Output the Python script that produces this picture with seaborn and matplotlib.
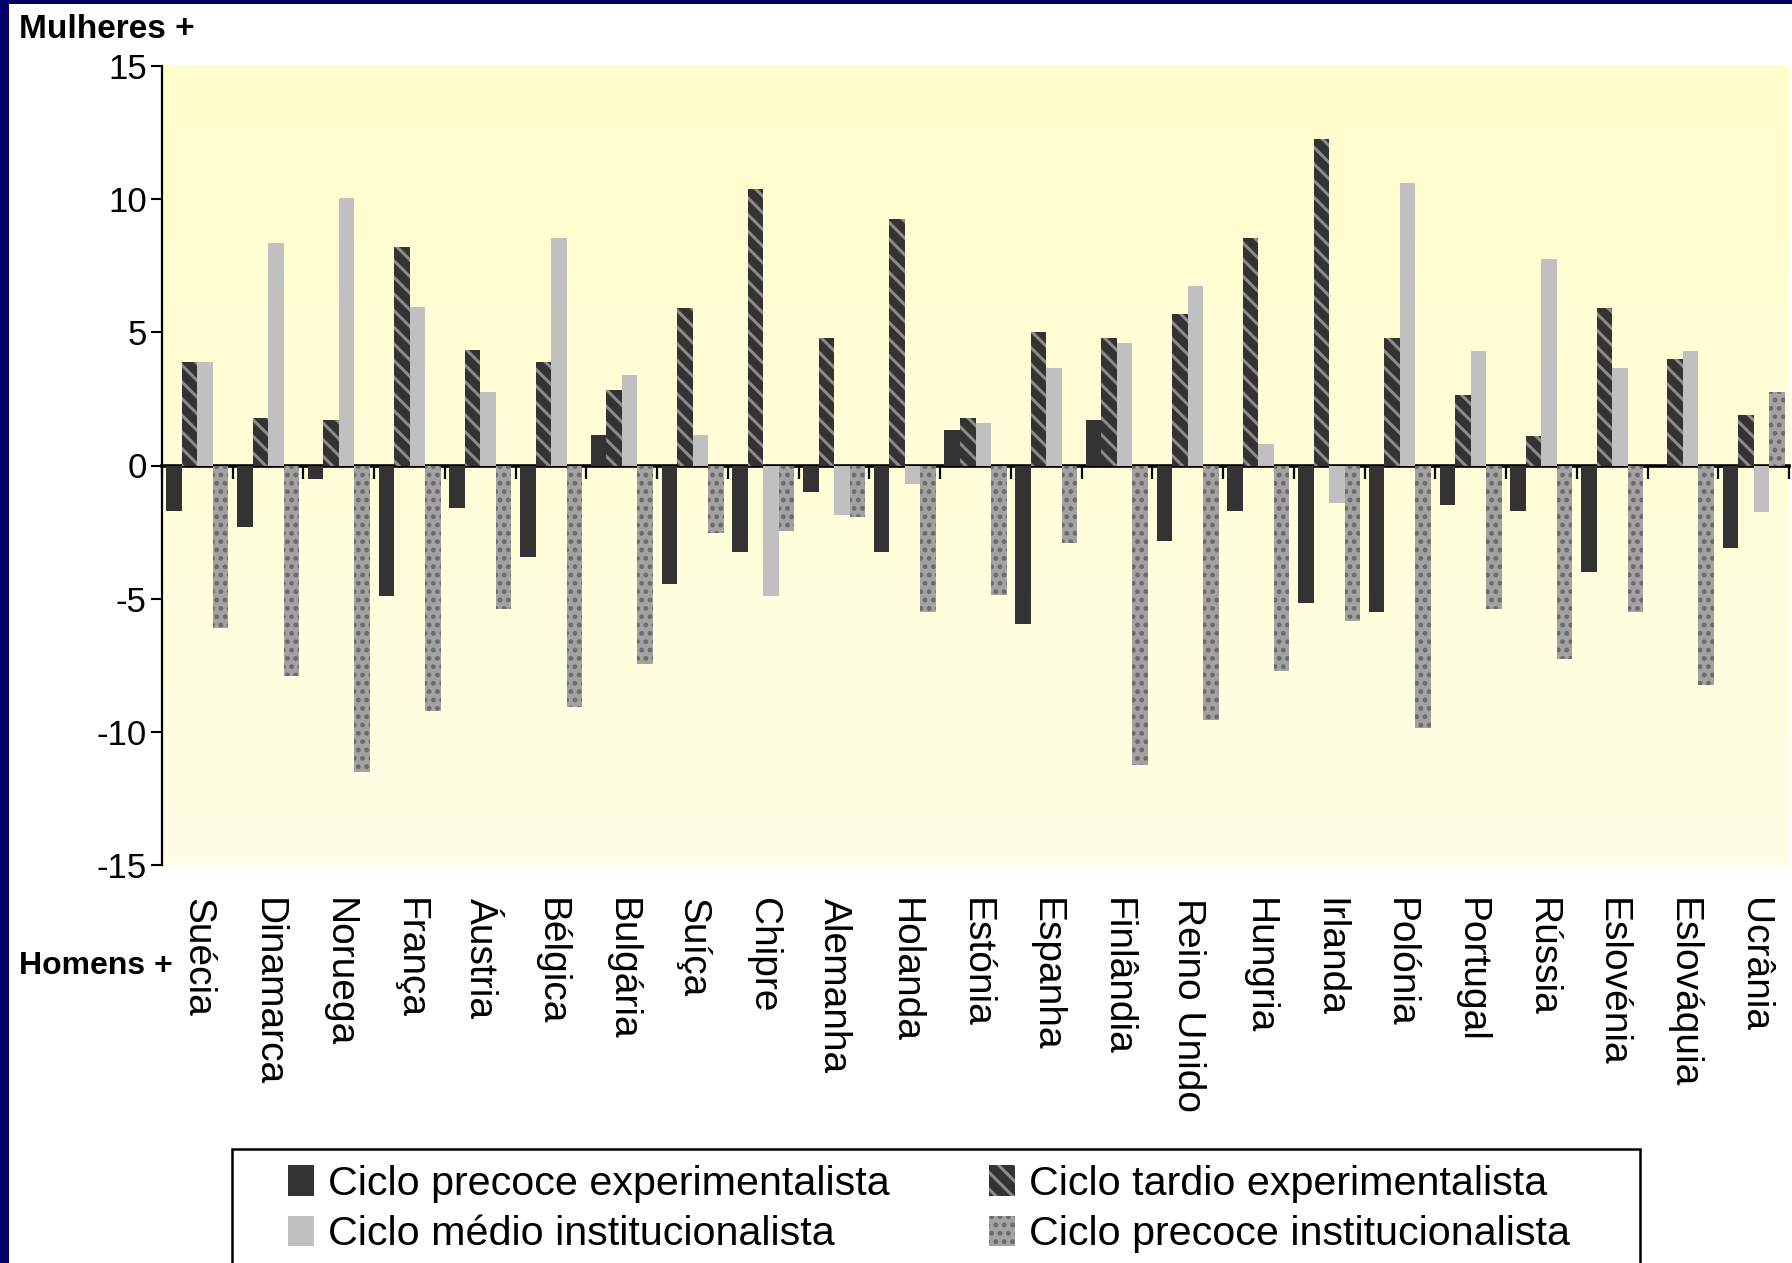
import numpy as np
import pandas as pd
import matplotlib
matplotlib.use("Agg")
import matplotlib.pyplot as plt
import seaborn as sns
from matplotlib.patches import Patch, Rectangle
from matplotlib.colors import LinearSegmentedColormap

countries = ["Suécia", "Dinamarca", "Noruega", "França", "Áustria", "Bélgica",
             "Bulgária", "Suíça", "Chipre", "Alemanha", "Holanda", "Estónia",
             "Espanha", "Finlândia", "Reino Unido", "Hungria", "Irlanda",
             "Polónia", "Portugal", "Rússia", "Eslovénia", "Eslováquia", "Ucrânia"]

series = ["Ciclo precoce experimentalista", "Ciclo tardio experimentalista",
          "Ciclo médio institucionalista", "Ciclo precoce institucionalista"]

precoce_exp = [-1.7, -2.3, -0.5, -4.9, -1.6, -3.45, 1.15, -4.45, -3.25, -1.0,
               -3.25, 1.35, -5.95, 1.7, -2.85, -1.7, -5.15, -5.5, -1.5, -1.7,
               -4.0, 0.0, -3.1]
tardio_exp = [3.9, 1.8, 1.7, 8.2, 4.35, 3.9, 2.85, 5.9, 10.4, 4.8, 9.25, 1.8,
              5.0, 4.8, 5.7, 8.55, 12.25, 4.8, 2.65, 1.1, 5.9, 4.0, 1.9]
medio_inst = [3.9, 8.35, 10.05, 5.95, 2.75, 8.55, 3.4, 1.15, -4.9, -1.85, -0.7,
              1.6, 3.65, 4.6, 6.75, 0.8, -1.4, 10.6, 4.3, 7.75, 3.65, 4.3, -1.75]
precoce_inst = [-6.1, -7.9, -11.5, -9.2, -5.4, -9.05, -7.45, -2.55, -2.45, -1.95,
                -5.5, -4.85, -2.9, -11.25, -9.55, -7.7, -5.85, -9.85, -5.4, -7.25,
                -5.5, -8.25, 2.75]

yticks = [-15, -10, -5, 0, 5, 10, 15]

# ---------- data frame ----------
rows = []
for s, vals in zip(series, [precoce_exp, tardio_exp, medio_inst, precoce_inst]):
    for c, v in zip(countries, vals):
        rows.append({"país": c, "série": s, "valor": v})
df = pd.DataFrame(rows)

sns.set_theme(style="white")
plt.rcParams["font.family"] = ["Liberation Sans", "DejaVu Sans"]

face = ["#333333", "#333333", "#C0C0C0", "#A2A2A2"]
hatch = [None, "\\\\", None, ".."]
hcol = ["#333333", "#8A8A8A", "#C0C0C0", "#6A6A6A"]
plt.rcParams["hatch.linewidth"] = 2.2

W, H = 1792, 1263
fig = plt.figure(figsize=(W / 100, H / 100), dpi=100)
fig.patch.set_facecolor("white")
ax = fig.add_axes([162 / W, 1 - 865 / H, (1789 - 162) / W, (865 - 66) / H])

sns.barplot(data=df, x="país", y="valor", hue="série", order=countries,
            hue_order=series, palette=dict(zip(series, face)), saturation=1,
            width=0.877, errorbar=None, legend=False, ax=ax, zorder=2)

for i, cont in enumerate(ax.containers):
    for p in cont:
        p.set_facecolor(face[i])
        p.set_edgecolor(hcol[i])
        p.set_linewidth(0)
        if hatch[i]:
            p.set_hatch(hatch[i])

ax.set_xlim(-0.5, len(countries) - 0.5)
ax.set_ylim(-15, 15)

# gradient background
grad = np.linspace(0, 1, 256).reshape(-1, 1)
cmap = LinearSegmentedColormap.from_list("bg", ["#FFFFE6", "#FFFDCB"])
ax.imshow(grad, extent=(-0.5, len(countries) - 0.5, -15, 15), origin="lower",
          cmap=cmap, aspect="auto", zorder=0)

for s in ["top", "right", "bottom"]:
    ax.spines[s].set_visible(False)
ax.spines["left"].set_linewidth(1.6)
ax.spines["left"].set_color("black")

ax.set_yticks(yticks)
ax.set_yticklabels([str(v) for v in yticks])
ax.tick_params(axis="y", direction="out", length=8, width=1.5, pad=3,
               labelsize=25, left=True, colors="black")
ax.tick_params(axis="x", length=0, pad=24, labelsize=28, colors="black")
ax.set_xticks(range(len(countries)))
ax.set_xticklabels(countries, rotation=270, va="top", ha="center")
ax.set_xlabel("")
ax.set_ylabel("")
ax.grid(False)

# zero line with category boundary ticks
sec = ax.secondary_xaxis(0.5)
sec.set_alignment("bottom")
sec.set_xticks(np.arange(-0.5, len(countries), 1.0))
sec.set_xticklabels([])
sec.tick_params(axis="x", direction="out", length=9, width=1.6, colors="black")
sec.spines["bottom"].set_linewidth(2.6)
sec.spines["bottom"].set_color("black")

# side labels
fig.text(19 / W, 1 - 29 / H, "Mulheres +", fontsize=24,
         fontweight="bold", va="center", ha="left", color="black")
fig.text(19 / W, 1 - 966 / H, "Homens +", fontsize=23,
         fontweight="bold", va="center", ha="left", color="black")

# legend
handles = [Patch(facecolor=face[i], edgecolor=hcol[i], hatch=hatch[i], linewidth=0,
                 label=series[i]) for i in range(4)]
order = [0, 2, 1, 3]
leg = fig.legend(handles=[handles[i] for i in order],
                 labels=[series[i] for i in order],
                 loc="upper left", ncol=2,
                 bbox_to_anchor=(288 / W, 1 - 1165 / H),
                 fontsize=29.7, frameon=False,
                 handlelength=0.63, handleheight=0.77, handletextpad=0.34,
                 labelspacing=0.3, columnspacing=2.4, borderpad=0, borderaxespad=0)
for t in leg.get_texts():
    t.set_color("black")

# legend frame (cut by the bottom of the picture, as in the slide)
fig.patches.append(Rectangle((232 / W, -0.05), (1640 - 232) / W, (H - 1149) / H + 0.05,
                             transform=fig.transFigure, facecolor="none",
                             edgecolor="black", linewidth=1.8, zorder=5))

# slide border strips
fig.patches.append(Rectangle((0, 0), 9 / W, 1, transform=fig.transFigure,
                             facecolor="#000066", edgecolor="none", zorder=10))
fig.patches.append(Rectangle((0, 1 - 4 / H), 1, 4 / H, transform=fig.transFigure,
                             facecolor="#000066", edgecolor="none", zorder=10))

fig.savefig("out.png", dpi=100, facecolor="white")
